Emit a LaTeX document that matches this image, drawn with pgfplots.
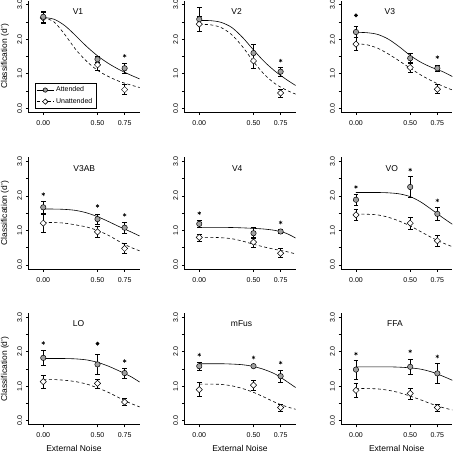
\documentclass[border=0pt]{standalone}
\usepackage{fontspec}
\setmainfont{Liberation Sans}
\usepackage{pgfplots}
\pgfplotsset{compat=1.18}
\definecolor{ptgray}{RGB}{160,160,160}
\pgfplotsset{
 panel/.style={
  scale only axis, width=111.3pt, height=111.8pt,
  xmin=-0.138, xmax=0.888, ymin=-0.12, ymax=3.12,
  axis lines=left, axis line style={-, line width=0.6pt},
  tick style={black, line width=0.6pt}, major tick length=2.5pt, tick align=outside,
  xtick={0,0.5,0.75}, xticklabels={0.00,0.50,0.75},
  ytick={0,0.5,1,1.5,2,2.5,3}, yticklabels={0.0,,1.0,,2.0,,3.0},
  ticklabel style={font=\fontsize{7}{8}\selectfont},
  yticklabel style={rotate=90, anchor=south},
  xticklabel style={yshift=-2pt},
  clip=false,
  anchor=south west,
 },
 ylab/.style={ylabel={Classification (d')}, ylabel style={font=\fontsize{8.5}{10}\selectfont, at={(axis description cs:-0.21,0.5)}, anchor=center}},
 xlab/.style={xlabel={External Noise}, xlabel style={font=\fontsize{8.5}{10}\selectfont, at={(axis description cs:#1,-0.208)}, anchor=center}},
 att/.style={black, line width=0.6pt, smooth, forget plot},
 unatt/.style={black, line width=0.6pt, smooth, dash pattern=on 3pt off 2.5pt, forget plot},
 attpts/.style={forget plot, only marks, mark=*, mark size=2.7pt, mark options={fill=ptgray, draw=black, line width=0.5pt},
   error bars/.cd, y dir=both, y explicit, error mark=-, error bar style={line width=0.6pt, black, solid}, error mark options={rotate=90, line width=0.6pt, mark size=2.4pt, black}},
 unpts/.style={forget plot, only marks, mark=square*, mark size=2.2pt, mark options={fill=white, draw=black, line width=0.5pt, rotate=45},
   error bars/.cd, y dir=both, y explicit, error mark=-, error bar style={line width=0.6pt, black, solid}, error mark options={rotate=90, line width=0.6pt, mark size=2.4pt, black}},
 star/.style={forget plot, only marks, mark=asterisk, mark size=1.8pt, black, line width=0.5pt},
 bdot/.style={forget plot, only marks, mark=*, mark size=1.7pt, black},
}
\newcommand{\ttl}[2]{\node[font=\fontsize{8.5}{10}\selectfont] at (axis cs:#1,2.8) {#2};}
\begin{document}
\begin{tikzpicture}
\useasboundingbox (0,0) rectangle (454pt,455pt);
% ---------- V1
\begin{axis}[panel, ylab, at={(28.3pt,342.6pt)},
  legend style={at={(rel axis cs:0.057,0.033)}, anchor=south west, draw=black, line width=0.6pt, font=\fontsize{7}{8}\selectfont, inner sep=1.5pt, row sep=1pt},
  legend cell align=left]
\addlegendimage{black, line width=0.6pt, mark=*, mark size=2.2pt, mark options={fill=ptgray, solid}}
\addlegendimage{black, line width=0.6pt, dash pattern=on 3pt off 2.5pt, mark=square*, mark size=1.9pt, mark options={fill=white, solid, rotate=45}}
\addplot[att] coordinates {(0,2.63) (0.1,2.58) (0.2,2.39) (0.3,2.10) (0.4,1.79) (0.5,1.52) (0.6,1.30) (0.7,1.12) (0.8,0.97) (0.888,0.85)};
\addplot[unatt] coordinates {(0,2.63) (0.1,2.50) (0.2,2.13) (0.3,1.70) (0.4,1.36) (0.5,1.10) (0.6,0.92) (0.7,0.78) (0.8,0.68) (0.888,0.60)};
\addplot[unpts] coordinates {(0,2.62) +- (0,0.15) (0.5,1.26) +- (0,0.15) (0.75,0.54) +- (0,0.14)};
\addplot[attpts] coordinates {(0,2.65) +- (0,0.17) (0.5,1.42) +- (0,0.10) (0.75,1.16) +- (0,0.14)};
\addplot[star] coordinates {(0.75,1.52)};
\ttl{0.32}{V1}
\legend{Attended,Unattended}
\end{axis}
% ---------- V2
\begin{axis}[panel, at={(184.3pt,342.6pt)}]
\addplot[att] coordinates {(0,2.54) (0.1,2.54) (0.2,2.49) (0.3,2.34) (0.4,2.05) (0.5,1.69) (0.6,1.35) (0.7,1.07) (0.8,0.84) (0.888,0.66)};
\addplot[unatt] coordinates {(0,2.43) (0.1,2.42) (0.2,2.34) (0.3,2.13) (0.4,1.78) (0.5,1.35) (0.6,0.98) (0.7,0.71) (0.8,0.53) (0.888,0.41)};
\addplot[unpts] coordinates {(0,2.44) +- (0,0.22) (0.5,1.37) +- (0,0.21) (0.75,0.44) +- (0,0.12)};
\addplot[attpts] coordinates {(0,2.58) +- (0,0.36) (0.5,1.60) +- (0,0.24) (0.75,1.06) +- (0,0.12)};
\addplot[star] coordinates {(0.75,1.38)};
\ttl{0.344}{V2}
\end{axis}
% ---------- V3
\begin{axis}[panel, at={(341.0pt,342.6pt)}]
\addplot[att] coordinates {(0,2.20) (0.1,2.19) (0.2,2.14) (0.3,2.00) (0.4,1.78) (0.5,1.53) (0.6,1.33) (0.7,1.18) (0.8,1.06) (0.888,0.92)};
\addplot[unatt] coordinates {(0,1.87) (0.1,1.84) (0.2,1.74) (0.3,1.57) (0.4,1.37) (0.5,1.16) (0.6,0.96) (0.7,0.79) (0.8,0.64) (0.888,0.53)};
\addplot[unpts] coordinates {(0,1.86) +- (0,0.19) (0.5,1.18) +- (0,0.15) (0.75,0.55) +- (0,0.13)};
\addplot[attpts] coordinates {(0,2.21) +- (0,0.16) (0.5,1.45) +- (0,0.15) (0.75,1.16) +- (0,0.09)};
\addplot[star] coordinates {(0.75,1.48)};
\addplot[bdot] coordinates {(0,2.69)};
\ttl{0.313}{V3}
\end{axis}
% ---------- V3AB
\begin{axis}[panel, ylab, at={(28.3pt,185.9pt)}]
\addplot[att] coordinates {(0,1.62) (0.1,1.62) (0.2,1.61) (0.3,1.58) (0.4,1.51) (0.5,1.40) (0.6,1.26) (0.7,1.11) (0.8,0.97) (0.888,0.84)};
\addplot[unatt] coordinates {(0,1.23) (0.1,1.23) (0.2,1.21) (0.3,1.16) (0.4,1.10) (0.5,1.00) (0.6,0.86) (0.7,0.68) (0.8,0.52) (0.888,0.41)};
\addplot[unpts] coordinates {(0,1.21) +- (0,0.25) (0.5,0.96) +- (0,0.17) (0.75,0.48) +- (0,0.15)};
\addplot[attpts] coordinates {(0,1.67) +- (0,0.17) (0.5,1.33) +- (0,0.15) (0.75,1.08) +- (0,0.16)};
\addplot[star] coordinates {(0,2.05) (0.5,1.71) (0.75,1.45)};
\ttl{0.378}{V3AB}
\end{axis}
% ---------- V4
\begin{axis}[panel, at={(184.3pt,185.9pt)}]
\addplot[att] coordinates {(0,1.09) (0.1,1.09) (0.2,1.09) (0.3,1.085) (0.4,1.075) (0.5,1.06) (0.6,1.04) (0.7,1.00) (0.8,0.92) (0.888,0.78)};
\addplot[unatt] coordinates {(0,0.80) (0.1,0.80) (0.2,0.79) (0.3,0.76) (0.4,0.69) (0.5,0.60) (0.6,0.52) (0.7,0.45) (0.8,0.39) (0.888,0.32)};
\addplot[unpts] coordinates {(0,0.80) +- (0,0.10) (0.5,0.66) +- (0,0.15) (0.75,0.34) +- (0,0.13)};
\addplot[attpts] coordinates {(0,1.19) +- (0,0.11) (0.5,0.92) +- (0,0.16) (0.75,0.97) +- (0,0.05)};
\addplot[star] coordinates {(0,1.50) (0.75,1.23)};
\ttl{0.35}{V4}
\end{axis}
% ---------- VO
\begin{axis}[panel, at={(341.0pt,185.9pt)}]
\addplot[att] coordinates {(0,2.10) (0.1,2.10) (0.2,2.10) (0.3,2.09) (0.4,2.06) (0.5,1.98) (0.6,1.82) (0.7,1.60) (0.8,1.37) (0.888,1.18)};
\addplot[unatt] coordinates {(0,1.47) (0.1,1.47) (0.2,1.45) (0.3,1.38) (0.4,1.27) (0.5,1.13) (0.6,0.96) (0.7,0.79) (0.8,0.64) (0.888,0.53)};
\addplot[unpts] coordinates {(0,1.45) +- (0,0.15) (0.5,1.21) +- (0,0.17) (0.75,0.70) +- (0,0.17)};
\addplot[attpts] coordinates {(0,1.89) +- (0,0.15) (0.5,2.26) +- (0,0.30) (0.75,1.48) +- (0,0.19)};
\addplot[star] coordinates {(0,2.26) (0.5,2.76) (0.75,1.87)};
\ttl{0.33}{VO}
\end{axis}
% ---------- LO
\begin{axis}[panel, ylab, xlab=0.41, at={(28.3pt,30.2pt)}]
\addplot[att] coordinates {(0,1.80) (0.1,1.80) (0.2,1.80) (0.3,1.79) (0.4,1.76) (0.5,1.69) (0.6,1.58) (0.7,1.44) (0.8,1.29) (0.888,1.12)};
\addplot[unatt] coordinates {(0,1.19) (0.1,1.19) (0.2,1.17) (0.3,1.13) (0.4,1.06) (0.5,0.95) (0.6,0.82) (0.7,0.66) (0.8,0.51) (0.888,0.40)};
\addplot[unpts] coordinates {(0,1.13) +- (0,0.18) (0.5,1.08) +- (0,0.13) (0.75,0.54) +- (0,0.10)};
\addplot[attpts] coordinates {(0,1.82) +- (0,0.22) (0.5,1.63) +- (0,0.29) (0.75,1.38) +- (0,0.15)};
\addplot[star] coordinates {(0,2.25) (0.75,1.73)};
\addplot[bdot] coordinates {(0.5,2.23)};
\ttl{0.325}{LO}
\end{axis}
% ---------- mFus
\begin{axis}[panel, xlab=0.5, at={(184.3pt,30.2pt)}]
\addplot[att] coordinates {(0,1.65) (0.1,1.65) (0.2,1.65) (0.3,1.64) (0.4,1.62) (0.5,1.57) (0.6,1.48) (0.7,1.35) (0.8,1.15) (0.888,0.96)};
\addplot[unatt] coordinates {(0,1.06) (0.1,1.06) (0.2,1.05) (0.3,1.01) (0.4,0.93) (0.5,0.82) (0.6,0.68) (0.7,0.53) (0.8,0.41) (0.888,0.33)};
\addplot[unpts] coordinates {(0,0.90) +- (0,0.20) (0.5,1.03) +- (0,0.15) (0.75,0.38) +- (0,0.10)};
\addplot[attpts] coordinates {(0,1.58) +- (0,0.11) (0.5,1.58) +- (0,0.03) (0.75,1.29) +- (0,0.17)};
\addplot[star] coordinates {(0,1.91) (0.5,1.83) (0.75,1.68)};
\ttl{0.39}{mFus}
\end{axis}
% ---------- FFA
\begin{axis}[panel, xlab=0.5, at={(341.0pt,30.2pt)}]
\addplot[att] coordinates {(0,1.56) (0.1,1.56) (0.2,1.56) (0.3,1.56) (0.4,1.55) (0.5,1.53) (0.6,1.49) (0.7,1.41) (0.8,1.29) (0.888,1.17)};
\addplot[unatt] coordinates {(0,0.93) (0.1,0.93) (0.2,0.92) (0.3,0.88) (0.4,0.81) (0.5,0.71) (0.6,0.60) (0.7,0.48) (0.8,0.38) (0.888,0.31)};
\addplot[unpts] coordinates {(0,0.88) +- (0,0.21) (0.5,0.79) +- (0,0.16) (0.75,0.38) +- (0,0.10)};
\addplot[attpts] coordinates {(0,1.48) +- (0,0.27) (0.5,1.56) +- (0,0.23) (0.75,1.37) +- (0,0.30)};
\addplot[star] coordinates {(0,1.94) (0.5,2.01) (0.75,1.86)};
\ttl{0.36}{FFA}
\end{axis}
\end{tikzpicture}
\end{document}
